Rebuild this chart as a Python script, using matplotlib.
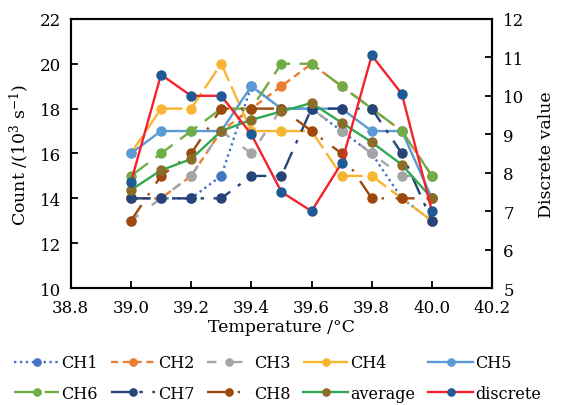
import matplotlib
matplotlib.use("Agg")
import matplotlib.pyplot as plt

plt.rcParams['font.family'] = ['DejaVu Serif']
plt.rcParams['mathtext.fontset'] = 'dejavuserif'

temps = [39.0, 39.1, 39.2, 39.3, 39.4, 39.5, 39.6, 39.7, 39.8, 39.9, 40.0]
ch1 = [14, 14, 14, 15, 19, 18, 18, 17, 16, 14, 13]
ch2 = [14, 14, 15, 17, 18, 19, 20, 19, 18, 17, 15]
ch3 = [13, 14, 15, 17, 16, 18, 18, 17, 16, 15, 15]
ch4 = [16, 18, 18, 20, 17, 17, 17, 15, 15, 14, 13]
ch5 = [16, 17, 17, 17, 19, 18, 18, 18, 17, 17, 14]
ch6 = [15, 16, 17, 18, 18, 20, 20, 19, 18, 17, 15]
ch7 = [14, 14, 14, 14, 15, 15, 18, 18, 18, 16, 13]
ch8 = [13, 15, 16, 18, 18, 18, 17, 16, 14, 14, 14]
discrete = [7.75, 10.55, 10.0, 10.0, 9.0, 7.5, 7.0, 8.25, 11.05, 10.05, 7.0]
channels = [ch1, ch2, ch3, ch4, ch5, ch6, ch7, ch8]
average = [sum(v) / len(v) for v in zip(*channels)]

names = ["CH1", "CH2", "CH3", "CH4", "CH5", "CH6", "CH7", "CH8"]
colors = ["#4472C4", "#ED7D31", "#A5A5A5", "#F7B531", "#5B9BD5",
          "#70AD47", "#264478", "#9E480E"]
styles = [(0, (1, 1.5)), (0, (3, 2)), (0, (4, 7)), (0, (9, 2.5)), '-',
          (0, (9, 4)), (0, (8, 4, 1.5, 4)), (0, (8, 5, 1, 5))]

fig = plt.figure(figsize=(5.67, 4.06), dpi=100)
ax = fig.add_axes([0.1247, 0.288, 0.7433, 0.663])
ax2 = ax.twinx()

handles = []
for vals, name, c, ls in zip(channels, names, colors, styles):
    h, = ax.plot(temps, vals, color=c, linestyle=ls, lw=1.7, marker='o',
                 ms=6.5, mfc=c, mec=c, label=name)
    handles.append(h)
h_avg, = ax.plot(temps, average, color="#2FA84F", lw=1.7, marker='o', ms=6.5,
                 mfc="#8B6D2A", mec="#8B6D2A", label="average")
h_dis, = ax2.plot(temps, discrete, color="#F5222D", lw=1.7, marker='o', ms=6.5,
                  mfc="#1F5A96", mec="#1F5A96", label="discrete")
handles += [h_avg, h_dis]

ax.set_xlim(38.8, 40.2)
ax.set_ylim(10, 22)
ax2.set_ylim(5, 12)
ax.set_xticks([38.8, 39.0, 39.2, 39.4, 39.6, 39.8, 40.0, 40.2])
ax.set_xticklabels(["38.8", "39.0", "39.2", "39.4", "39.6", "39.8", "40.0", "40.2"])
ax.set_yticks([10, 12, 14, 16, 18, 20, 22])
ax2.set_yticks([5, 6, 7, 8, 9, 10, 11, 12])

for a in (ax, ax2):
    a.tick_params(direction='in', length=5, width=1.3, labelsize=12)
    for s in a.spines.values():
        s.set_linewidth(1.5)
ax.tick_params(axis='x', pad=8)
ax.tick_params(axis='y', pad=7)
ax2.tick_params(axis='y', pad=8)

ax.set_xlabel("Temperature /°C", fontsize=12.5, labelpad=1)
ax.set_ylabel("Count /(10$^3$ s$^{-1}$)", fontsize=12.5, labelpad=6)
ax2.set_ylabel("Discrete value", fontsize=12.5, labelpad=10)

order = [0, 5, 1, 6, 2, 7, 3, 8, 4, 9]
fig.legend([handles[i] for i in order], [handles[i].get_label() for i in order],
           ncol=5, loc='center', bbox_to_anchor=(0.49, 0.0665),
           frameon=False, fontsize=11.5, handlelength=2.8, handletextpad=0.15,
           columnspacing=0.8, labelspacing=0.85, markerscale=0.8,
           borderpad=0.1)

fig.savefig("out.png", dpi=100)
